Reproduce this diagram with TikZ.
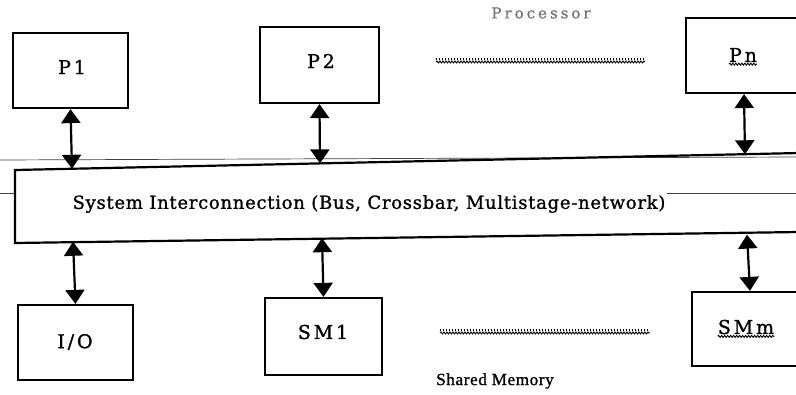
\documentclass[tikz,border=0pt]{standalone}
\usepackage{fontspec}
\setmainfont{DejaVu Serif}
\newfontfamily\boxfont[LetterSpace=15,FakeBold=1.2]{DejaVu Serif}
\newfontfamily\busfont[LetterSpace=4,FakeBold=1.2]{DejaVu Serif}
\newfontfamily\procfont[LetterSpace=20,FakeBold=0.8]{DejaVu Serif}
\newfontfamily\memfont[LetterSpace=4,FakeBold=1.2]{Liberation Serif}
\usetikzlibrary{arrows.meta,decorations.pathmorphing}
\begin{document}
\begin{tikzpicture}[x=1pt,y=-1pt,
  box/.style={draw,line width=2.2pt,minimum width=#1,inner sep=0pt},
  link/.style={line width=2.2pt,{Triangle[width=19pt,length=14pt]}-{Triangle[width=19pt,length=14pt]}},
  squig/.style={line width=0.9pt,decorate,decoration={snake,segment length=3pt,amplitude=1pt}},
  dotrow/.style={line width=1.8pt,dash pattern=on 1.2pt off 1.8pt},
  lbl/.style={inner sep=0pt,font=\boxfont\fontsize{19}{21}\selectfont}]
\useasboundingbox (0,0) rectangle (796,395);
% scan lines
\draw[line width=0.7pt,black!75] (0,160) -- (796,157);
% processors
\node[box=115pt,minimum height=75pt] (p1) at (70.5,70.5) {};
\node[lbl] (p1t) at (72,67) {P1};
\node[box=119pt,minimum height=76pt] (p2) at (319.5,65) {};
\node[lbl] (p2t) at (321,61) {P2};
\node[box=116pt,minimum height=75pt] (pn) at (744,55.5) {};
\node[lbl] (pnt) at (743,55) {Pn};
\draw[squig] ([yshift=-2pt]pnt.south west) -- ([yshift=-2pt]pnt.south east);
\node[inner sep=0pt,text=black!55,font=\procfont\fontsize{15}{17}\selectfont] (proc) at (541,13) {Processor};
\coordinate (w1a) at (436,59); \coordinate (w1b) at (645,59);
\draw[dotrow] (w1a) -- (w1b);
\draw[squig] ([yshift=-3pt]w1a) -- ([yshift=-3pt]w1b);
% bus
\coordinate (b1) at (15,170); \coordinate (b2) at (800,153);
\coordinate (b3) at (800,232); \coordinate (b4) at (15,243);
\draw[line width=2.2pt] (b2) -- (b1) -- (b4) -- (b3);
\node[inner sep=1pt,font=\busfont\fontsize{18}{20}\selectfont] (bus) at (369,204) {System Interconnection (Bus, Crossbar, Multistage-network)};
\draw[line width=0.7pt,black!75] (0,193) -- (15,193);
\draw[line width=0.7pt,black!75] (bus.east |- 0,193) -- (796,193);
\coordinate (t1) at (72,168.8); \coordinate (t2) at (320,163.4); \coordinate (t3) at (745,154.3);
\coordinate (d1) at (73,241.8); \coordinate (d2) at (322,238.2); \coordinate (d3) at (747,234.6);
% memories
\node[box=115pt,minimum height=75pt] (io) at (75.5,342.5) {};
\node[lbl] (iot) at (75,342) {I/O};
\node[box=117pt,minimum height=77pt] (sm1) at (323.5,336.5) {};
\node[lbl] (sm1t) at (323,332) {SM1};
\node[box=116pt,minimum height=74pt] (smm) at (750,329) {};
\node[lbl] (smmt) at (746,327) {SMm};
\draw[squig] ([yshift=-2pt]smmt.south west) -- ([yshift=-2pt]smmt.south east);
\coordinate (w2a) at (440,330); \coordinate (w2b) at (650,330);
\draw[dotrow] (w2a) -- (w2b);
\draw[squig] ([yshift=-3pt]w2a) -- ([yshift=-3pt]w2b);
\node[inner sep=0pt,font=\memfont\fontsize{17}{19}\selectfont] (shm) at (495,381) {Shared Memory};
% links
\draw[link] (p1.south) -- (t1);
\draw[link] (p2.south) -- (t2);
\draw[link] (pn.south) -- (t3);
\draw[link] (d1) -- (io.north);
\draw[link] (d2) -- (sm1.north);
\draw[link] (d3) -- (smm.north);
\end{tikzpicture}
\end{document}
